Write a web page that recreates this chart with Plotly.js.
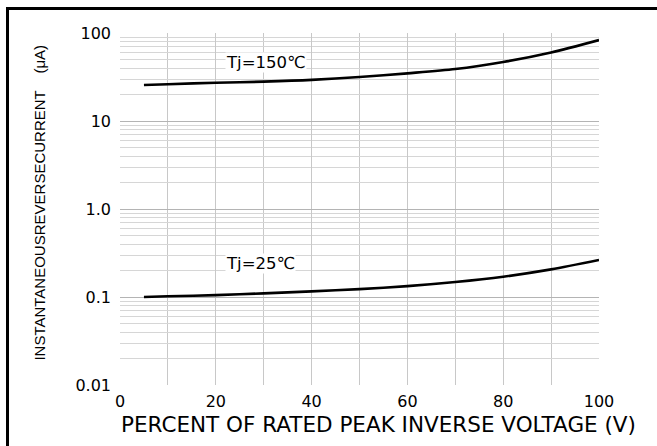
<!DOCTYPE html>
<html>
<head>
<meta charset="utf-8">
<script src="https://cdn.plot.ly/plotly-3.0.1.min.js"></script>
<style>
  html, body { margin: 0; padding: 0; background: #fff; }
  #wrap { position: relative; width: 657px; height: 446px; overflow: hidden; }
  #chart { position: absolute; left: 0; top: 0; width: 657px; height: 446px; }
  #frameTop { position: absolute; left: 6px; top: 7px; width: 651px; height: 3px; background: #000; }
  #frameLeft { position: absolute; left: 6px; top: 7px; width: 3px; height: 439px; background: #000; }
</style>
</head>
<body>
<div id="wrap">
  <div id="chart"></div>
  <div id="frameTop"></div>
  <div id="frameLeft"></div>
</div>
<script>
// Percent of rated peak inverse voltage
const voltagePct = [5, 10, 20, 30, 40, 50, 60, 70, 80, 90, 100];
// Reverse current (uA) at Tj = 150 C
const current150 = [25.6, 26.2, 27.2, 28.0, 29.3, 31.6, 34.8, 38.9, 46.8, 60, 83];
// Reverse current (uA) at Tj = 25 C
const current25 = [0.100, 0.102, 0.105, 0.110, 0.116, 0.123, 0.133, 0.148, 0.170, 0.206, 0.263];

const xTickVals = [0, 20, 40, 60, 80, 100];
const yTickVals = [0.01, 0.1, 1, 10, 100];
const yTickText = ['0.01', '0.1', '1.0', '10', '100'];

const seriesLabels = ['Tj=150℃', 'Tj=25℃'];
const xTitle = 'PERCENT OF RATED PEAK INVERSE VOLTAGE (V)';
const yTitle = 'INSTANTANEOUSREVERSECURRENT\u00a0\u00a0\u00a0\u00a0(μA)';

const lineStyle = { color: '#000', width: 2.6, shape: 'spline', smoothing: 0.8 };

const data = [
  { x: voltagePct, y: current150, mode: 'lines', line: lineStyle, hoverinfo: 'skip', name: seriesLabels[0] },
  { x: voltagePct, y: current25, mode: 'lines', line: lineStyle, hoverinfo: 'skip', name: seriesLabels[1] }
];

const wideFont = "'DejaVu Sans', sans-serif";
const font = "'Liberation Sans', Arial, sans-serif";

const layout = {
  width: 657, height: 446,
  margin: { l: 120, r: 58, t: 33, b: 61 },
  paper_bgcolor: '#fff', plot_bgcolor: '#fff',
  showlegend: false,
  font: { family: wideFont, color: '#000' },
  xaxis: {
    range: [0, 100],
    tickvals: xTickVals,
    ticks: '', showline: false, zeroline: false,
    showgrid: true, gridcolor: '#c8c8c8', gridwidth: 1,
    minor: { dtick: 10, showgrid: true, gridcolor: '#c8c8c8', gridwidth: 1 },
    tickfont: { size: 16, family: wideFont, color: '#000' },
    ticklabelstandoff: 5,
    fixedrange: true
  },
  yaxis: {
    type: 'log',
    range: [-2, 2],
    tickvals: yTickVals, ticktext: yTickText,
    ticks: '', showline: false, zeroline: false,
    showgrid: true, gridcolor: '#b4b4b4', gridwidth: 1,
    minor: { dtick: 'D1', showgrid: true, gridcolor: '#d6d6d6', gridwidth: 1, ticks: '' },
    tickfont: { size: 16, family: wideFont, color: '#000' },
    ticklabelstandoff: 8,
    fixedrange: true
  },
  annotations: [
    { xref: 'x', yref: 'y', x: 22, y: 1.67, text: seriesLabels[0],
      showarrow: false, bgcolor: '#fff', borderpad: 0, font: { size: 16.5, family: wideFont, color: '#000' }, xanchor: 'left' },
    { xref: 'x', yref: 'y', x: 22, y: -0.614, text: seriesLabels[1],
      showarrow: false, bgcolor: '#fff', borderpad: 0, font: { size: 16.5, family: wideFont, color: '#000' }, xanchor: 'left' },
    { xref: 'paper', yref: 'paper', x: 0.54, y: -0.07, yanchor: 'top', xanchor: 'center',
      text: xTitle, showarrow: false, font: { size: 21.5, family: wideFont, color: '#000' } },
    { xref: 'paper', yref: 'paper', x: -0.17, y: 0.517, xanchor: 'center', yanchor: 'middle', textangle: -90,
      text: yTitle, showarrow: false, font: { size: 15, family: font, color: '#000' } }
  ]
};

Plotly.newPlot('chart', data, layout, { displayModeBar: false, staticPlot: true });
</script>
</body>
</html>
